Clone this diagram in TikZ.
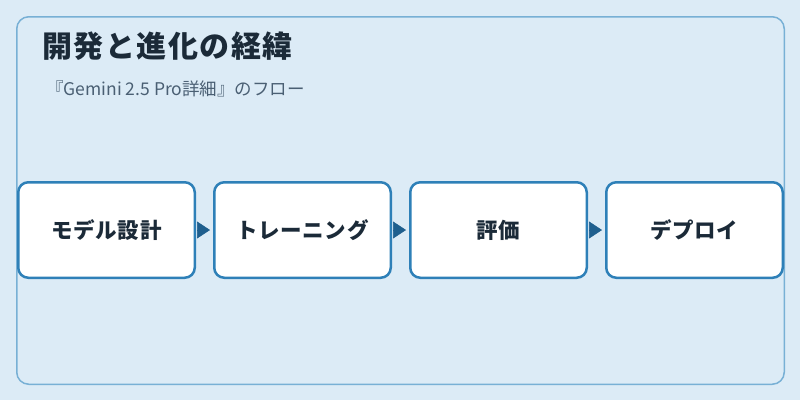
\documentclass[tikz,border=0pt]{standalone}
\usepackage{fontspec}
\setmainfont{Noto Sans CJK JP}
\usetikzlibrary{arrows.meta}

\definecolor{bgblue}{HTML}{DCEBF6}
\definecolor{frameblue}{HTML}{78B0D5}
\definecolor{boxblue}{HTML}{2E80B8}
\definecolor{tipblue}{HTML}{1F5F8E}
\definecolor{inkdark}{HTML}{1B2A38}
\definecolor{inkgray}{HTML}{4A5F73}

\tikzset{
  stepbox/.style={draw=boxblue, line width=2.5pt, fill=white, rounded corners=10pt,
    minimum width=176.5pt, minimum height=95.5pt, inner sep=0pt,
    text=inkdark, font=\fontsize{21.5}{26}\selectfont\bfseries\addfontfeature{LetterSpace=3}},
  flowarrow/.style={draw=tipblue, line width=0.5pt, shorten <=3pt, shorten >=3pt,
    -{Triangle[length=13pt,width=17pt]}, tipblue}
}

\begin{document}
\begin{tikzpicture}[x=1pt,y=-1pt]
    \fill[bgblue] (0,0) rectangle (800,400);% background
    \useasboundingbox (0,0) rectangle (800,400);
    \draw[frameblue, line width=1.5pt, rounded corners=12pt] (16.75,16.75) rectangle (784.25,384.25);
    \node[anchor=base west, inner sep=0pt, text=inkdark,
      font=\fontsize{30}{34}\selectfont\bfseries\addfontfeature{LetterSpace=5}] (title) at (42,57) {開発と進化の経緯};
    \node[anchor=base west, inner sep=0pt, text=inkgray,
      font=\fontsize{17.5}{21}\selectfont] (subtitle) at (46,95) {『Gemini 2.5 Pro詳細』のフロー};
    \foreach \name/\txt [count=\i] in {model/モデル設計,train/トレーニング,eval/評価,deploy/デプロイ}{% four steps in a row
      \node[stepbox] (\name) at ({106.5+196*(\i-1)},230) {\txt};}
    \foreach \a/\b in {model/train,train/eval,eval/deploy}
      \draw[flowarrow] (\a) -- (\b);
\end{tikzpicture}
\end{document}
